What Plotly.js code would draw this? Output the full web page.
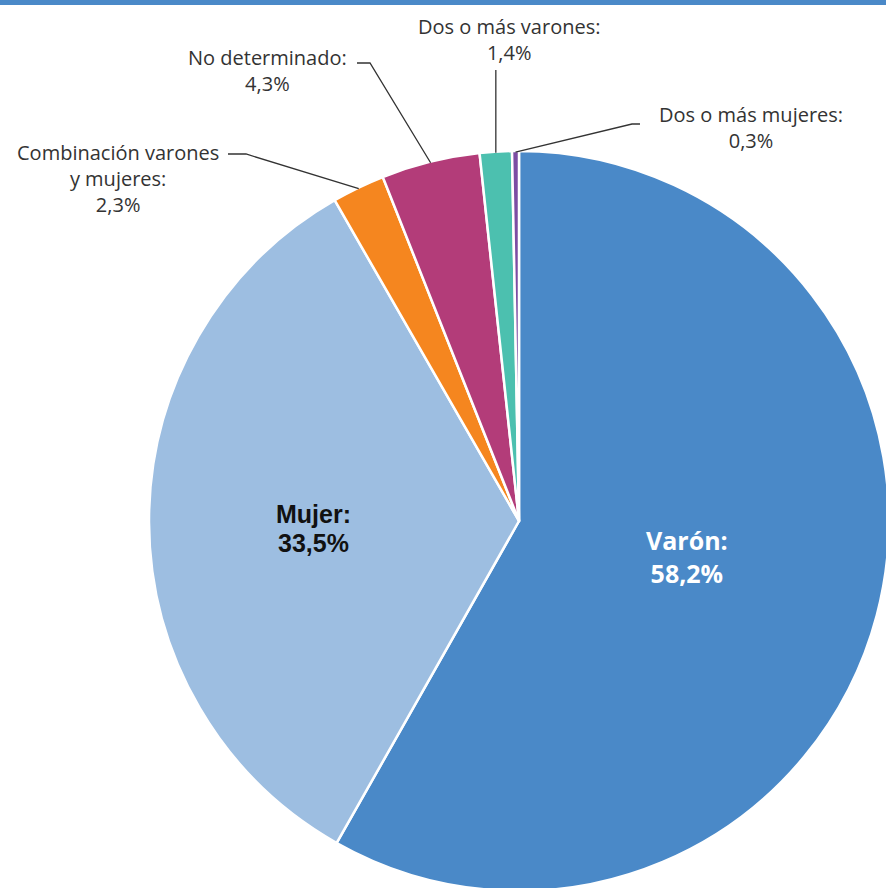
<!DOCTYPE html>
<html><head><meta charset="utf-8">
<script src="https://cdn.plot.ly/plotly-3.0.1.min.js"></script>
<style>html,body{margin:0;padding:0;overflow:hidden;background:#fff}#chart{width:900px;height:900px}</style>
</head><body><div id="chart"></div>
<script>
// ---- data ----
const categories = ["Varón", "Mujer", "Combinación varones y mujeres", "No determinado", "Dos o más varones", "Dos o más mujeres"];
const values = [58.2, 33.5, 2.3, 4.3, 1.4, 0.3];
const colors = ["#4a89c8", "#9dbee1", "#f5861f", "#b33c79", "#4cc0af", "#7c4da3"];

// ---- layout geometry (pixels) ----
const W = 900, H = 900, CX = 519, CY = 521, R = 370;
const px = x => x / W, py = y => 1 - y / H;

// label placement (layout only)
const insideCfg = {
  0: {rf: 0.465, dAng: -3, color: "#ffffff", family: "Open Sans, sans-serif", size: 25, gap: 0},
  1: {rf: 0.557, dAng: -1.8, color: "#111111", family: "Liberation Sans, Arial, sans-serif", size: 25, gap: 29}
};
const outsideCfg = {
  2: {x: 118, y: [151, 178, 205], breakAfter: 2, path: [[228, 154], [246, 154]]},
  3: {x: 267, y: [57, 84], path: [[357, 63], [370, 63]]},
  4: {x: 509, y: [26, 53], vertical: 70},
  5: {x: 751, y: [114, 141], path: [[640, 124], [632, 124]]}
};

const fmt = v => v.toFixed(1).replace('.', ',') + '%';
const total = values.reduce((a, b) => a + b, 0);
const midAngles = [];
let cum = 0;
values.forEach(v => { midAngles.push((cum + v / 2) / total * 360); cum += v; });
const polar = (ang, r) => {
  const a = ang * Math.PI / 180;
  return [CX + r * Math.sin(a), CY - r * Math.cos(a)];
};

const annotations = [];
const shapes = [{type: 'rect', xref: 'paper', yref: 'paper', x0: 0, x1: 1, y0: py(5), y1: 1, fillcolor: colors[0], line: {width: 0}, layer: 'above'}];

Object.keys(insideCfg).forEach(k => {
  const i = +k, c = insideCfg[k];
  const [x, y] = polar(midAngles[i] + c.dAng, c.rf * R);
  const lines = [categories[i] + ':', fmt(values[i])];
  const font = {family: c.family, size: c.size, color: c.color};
  if (c.gap) {
    lines.forEach((t, j) => {
      annotations.push({xref: 'paper', yref: 'paper', x: px(x), y: py(y + (j - 0.5) * c.gap),
        xanchor: 'center', yanchor: 'middle', showarrow: false, text: '<b>' + t + '</b>', font: font});
    });
  } else {
    annotations.push({xref: 'paper', yref: 'paper', x: px(x), y: py(y),
      xanchor: 'center', yanchor: 'middle', showarrow: false, align: 'center',
      text: lines.map(t => '<b>' + t + '</b>').join('<br>'), font: font});
  }
});

Object.keys(outsideCfg).forEach(k => {
  const i = +k, c = outsideCfg[k];
  const words = categories[i].split(' ');
  let lines;
  if (c.breakAfter) lines = [words.slice(0, c.breakAfter).join(' '), words.slice(c.breakAfter).join(' ') + ':'];
  else lines = [categories[i] + ':'];
  lines.push(fmt(values[i]));
  const yc = c.y.reduce((a, b) => a + b, 0) / c.y.length;
  annotations.push({xref: 'paper', yref: 'paper', x: px(c.x), y: py(yc),
    xanchor: 'center', yanchor: 'middle', showarrow: false, align: 'center', text: lines.join('<br>'),
    font: {family: 'Open Sans, sans-serif', size: 20, color: '#333333'}});
  const anchor = polar(midAngles[i], R - 1);
  const pts = c.vertical ? [[anchor[0], c.vertical]] : c.path.slice();
  pts.push(anchor);
  const d = pts.map((p, j) => (j ? 'L' : 'M') + px(p[0]).toFixed(5) + ',' + py(p[1]).toFixed(5)).join(' ');
  shapes.push({type: 'path', xref: 'paper', yref: 'paper', path: d, line: {color: '#333333', width: 1.3}});
});

const trace = {
  type: 'pie',
  labels: categories,
  values: values,
  sort: false,
  direction: 'clockwise',
  rotation: 0,
  textinfo: 'none',
  hoverinfo: 'label+percent',
  marker: {colors: colors, line: {color: '#ffffff', width: 2.5}},
  domain: {x: [px(CX - R), px(CX + R)], y: [1 - (CY + R) / H, 1 - (CY - R) / H]},
  showlegend: false
};

Plotly.newPlot('chart', [trace], {
  width: W, height: H,
  margin: {l: 0, r: 0, t: 0, b: 0},
  paper_bgcolor: '#ffffff',
  showlegend: false,
  annotations: annotations,
  shapes: shapes
}, {displayModeBar: false, staticPlot: true});
</script>
</body></html>
